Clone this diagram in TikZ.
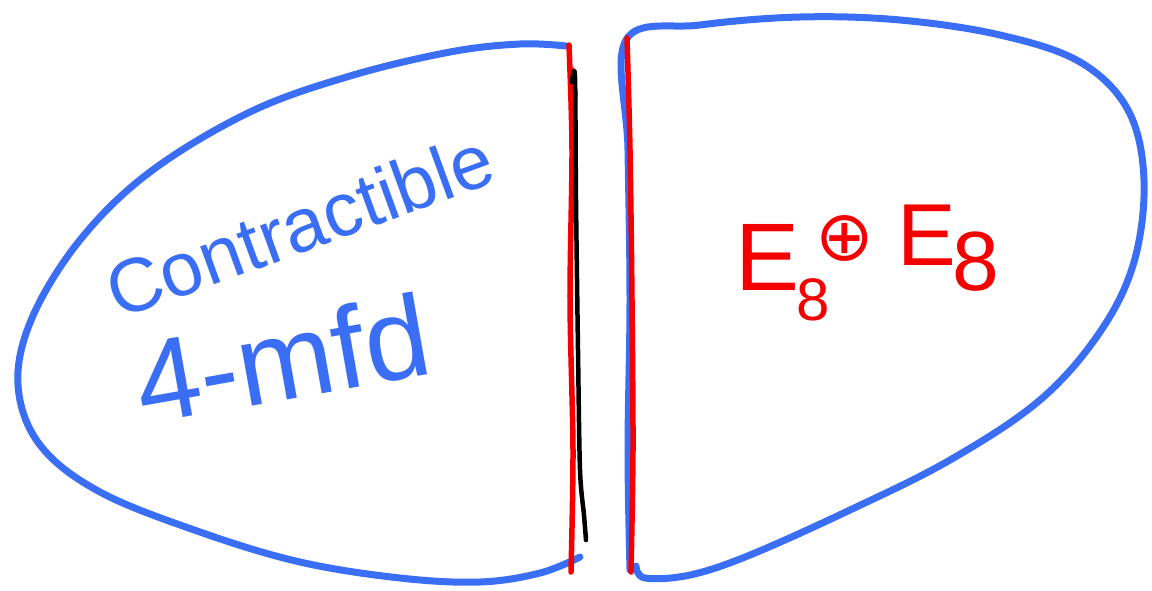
\documentclass[tikz,border=0pt]{standalone}
\usepackage{fontspec}
\setmainfont{Liberation Sans}
\newfontfamily\symfont{DejaVu Sans}
\begin{document}
\begin{tikzpicture}[x=1pt,y=-1pt,
  blueline/.style={draw={rgb,255:red,58;green,110;blue,245}, line width=7pt, line cap=round, line join=round},
  redline/.style={draw={rgb,255:red,245;green,0;blue,0}, line width=5.5pt, line cap=round, line join=round},
  blackline/.style={draw=black, line width=4.5pt, line cap=round, line join=round},
  bluetext/.style={text={rgb,255:red,58;green,110;blue,245}, inner sep=0pt},
  redtext/.style={text={rgb,255:red,245;green,0;blue,0}, inner sep=0pt}]
\useasboundingbox (0,0) rectangle (1152,590);
% left region
\draw[blueline] plot[smooth, tension=0.6] coordinates {(566,46) (520,44) (450,52) (350,76) (250,112) (150,172) (80,240) (32,318) (18,385) (40,445) (100,492) (200,532) (300,562) (400,578) (480,582) (540,573) (580,557)};
% right region
\draw[blueline] plot[smooth, tension=0.6] coordinates {(630,570) (628,450) (630,300) (628,150) (626,40) (700,25) (800,17) (900,20) (1000,35) (1080,62) (1128,110) (1144,180) (1134,262) (1100,332) (1040,400) (950,460) (850,510) (750,555) (690,575) (645,578) (636,566)};
% seams
\draw[redline] plot[smooth, tension=0.5] coordinates {(569,45) (572,150) (570,300) (573,450) (571,572)};
\draw[redline] (572,70) -- (575,95);
\draw[blackline] plot[smooth, tension=0.5] coordinates {(572,82) (575,77) (576,200) (578,350) (580,470) (584,515) (586,540)};
\draw[redline] plot[smooth, tension=0.5] coordinates {(627,38) (630,150) (632,300) (633,450) (631,572)};
% labels
\node[bluetext, rotate=20, anchor=base west, font=\fontsize{76}{80}\selectfont] (contr) at (118,320) {Contractible};
\node[bluetext, rotate=10, anchor=base west, font=\fontsize{116}{120}\selectfont] (mfd) at (143,425) {4-mfd};
\node[redtext, anchor=base west, font=\fontsize{96}{100}\selectfont] (e8a) at (735,290) {E};
\node[redtext, anchor=base west, font=\fontsize{60}{60}\selectfont] (e8asub) at (796,320) {8};
\node[redtext, anchor=center, font=\symfont\fontsize{70}{70}\selectfont] (oplus) at (845,238) {⊕};
\node[redtext, anchor=base west, font=\fontsize{88}{90}\selectfont] (e8b) at (897,265) {E};
\node[redtext, anchor=base west, font=\fontsize{84}{90}\selectfont] (e8bsub) at (952,290) {8};
\end{tikzpicture}
\end{document}
